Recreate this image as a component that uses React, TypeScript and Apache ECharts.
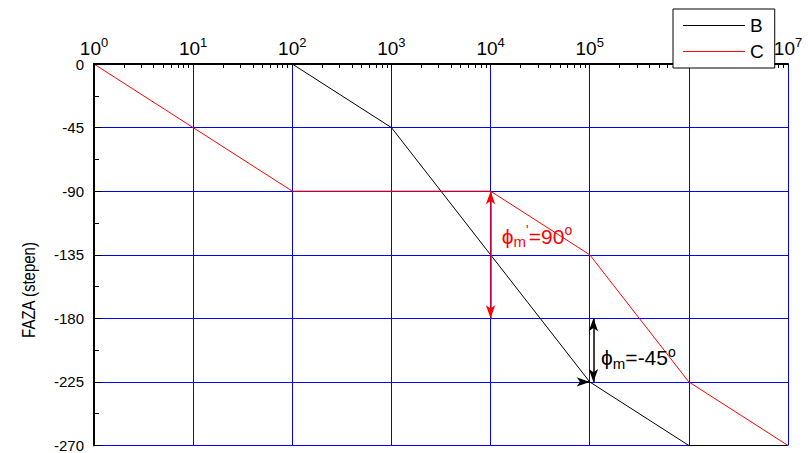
import React, { useEffect, useRef } from "react";
import * as echarts from "echarts";

// ---- data ----
const decadeExponents = [0, 1, 2, 3, 4, 5, 6, 7];
const minorMultipliers = [2, 3, 4, 5, 6, 7, 8, 9];
const yMin = -270;
const yMax = 0;
const yStep = 45;

const seriesBName = "B";
const seriesBX = [1e2, 1e3, 1e5, 1e6, 1e7];
const seriesBY = [0, -45, -225, -270, -270];

const seriesCName = "C";
const seriesCX = [1e0, 1e1, 1e2, 1e4, 1e5, 1e6, 1e7];
const seriesCY = [0, -45, -90, -90, -135, -225, -270];

// annotations
const redArrow = [[1e4, -90], [1e4, -180]];
const blackArrow = [[1.09e5, -180], [1.09e5, -225]];
const blackHArrow = [[8.3e4, -225], [1e5, -225]];
const redLabelAt = [2.94e4, -122];
const blackLabelAt = [3.1e5, -208];
const yAxisTitle = "FAZA (stepen)";

const FONT = '"Liberation Sans", Arial, sans-serif';
const LINE_ICON = "path://M0,9 L62,9 L62,10 L0,10 Z";

export default function App() {
  const ref = useRef<HTMLDivElement>(null);
  useEffect(() => {
    if (!ref.current) return;
    const chart = echarts.init(ref.current, undefined, { renderer: "svg" });

    const tickValues: number[] = [];
    decadeExponents.forEach((e) => {
      tickValues.push(e);
      if (e < 7) minorMultipliers.forEach((m) => tickValues.push(e + Math.log10(m)));
    });

    const grid = { left: 94, right: 20, top: 64, bottom: 7 };

    const annotRich = (color: string) => ({
      p: { fontSize: 21, fontFamily: FONT, color, lineHeight: 26 },
      sub: { fontSize: 15, fontFamily: FONT, color, lineHeight: 15, verticalAlign: "bottom" },
      sup: { fontSize: 14, fontFamily: FONT, color, lineHeight: 14, verticalAlign: "top" },
    });

    chart.setOption({
      animation: false,
      backgroundColor: "#fff",
      grid,
      legend: {
        orient: "vertical",
        left: 673,
        top: 9,
        z: 10,
        padding: [7, 11, 7, 10],
        itemGap: 7,
        itemWidth: 62,
        itemHeight: 19,
        icon: LINE_ICON,
        backgroundColor: "#fff",
        borderColor: "#000",
        borderWidth: 1,
        textStyle: { fontSize: 19, fontFamily: FONT, color: "#000" },
        data: [seriesBName, seriesCName],
      },
      xAxis: [
        {
          type: "log",
          logBase: 10,
          min: 1,
          max: 1e7,
          position: "top",
          axisLine: { show: false, onZero: false },
          axisTick: { show: false },
          splitLine: { show: true, lineStyle: { color: "#0000ff", width: 1 } },
          axisLabel: {
            margin: 4,
            formatter: (v: number) => `{b|10}{s|${Math.round(Math.log10(v))}}`,
            rich: {
              b: { fontSize: 19, fontFamily: FONT, color: "#000", lineHeight: 24 },
              s: { fontSize: 13, fontFamily: FONT, color: "#000", lineHeight: 13, verticalAlign: "top" },
            },
          },
        },
        {
          type: "value",
          min: 0,
          max: 7,
          position: "top",
          z: 5,
          axisLine: { show: true, onZero: false, lineStyle: { color: "#000", width: 2 } },
          axisTick: {
            show: true,
            inside: true,
            length: 4,
            customValues: tickValues,
            lineStyle: { color: "#000", width: 1 },
          },
          axisLabel: { show: false },
          splitLine: { show: false },
        },
      ],
      yAxis: [
        {
          type: "value",
          min: yMin,
          max: yMax,
          interval: yStep,
          axisLine: { show: false, onZero: false },
          axisTick: { show: false },
          axisLabel: { show: false },
          splitLine: { show: true, lineStyle: { color: "#0000ff", width: 1 } },
        },
        {
          type: "value",
          min: yMin,
          max: yMax,
          interval: yStep,
          position: "left",
          z: 5,
          axisLine: { show: true, onZero: false, lineStyle: { color: "#000", width: 2 } },
          axisTick: { show: true, inside: true, length: 8, lineStyle: { color: "#000", width: 1 } },
          minorTick: { show: true, splitNumber: 2, length: 5, lineStyle: { color: "#000", width: 1 } },
          axisLabel: { margin: 10, fontSize: 15, fontFamily: FONT, color: "#000" },
          splitLine: { show: false },
        },
      ],
      graphic: [
        {
          type: "text",
          x: 29,
          y: 290,
          rotation: Math.PI / 2,
          scaleY: 1.22,
          style: {
            text: yAxisTitle,
            font: `15px ${FONT}`,
            fill: "#000",
            align: "center",
            verticalAlign: "middle",
          },
        },
      ],
      series: [
        {
          name: seriesBName,
          type: "line",
          xAxisIndex: 0,
          yAxisIndex: 0,
          symbol: "none",
          color: "#000",
          lineStyle: { color: "#000", width: 1 },
          data: seriesBX.map((x, i) => [x, seriesBY[i]]),
          markLine: {
            silent: true,
            symbol: ["arrow", "arrow"],
            symbolSize: [7, 13],
            label: { show: false },
            lineStyle: { color: "#000", width: 1.5, type: "solid" },
            data: [
              [{ coord: blackArrow[0] }, { coord: blackArrow[1] }],
              [{ coord: blackHArrow[0], symbol: "none" }, { coord: blackHArrow[1] }],
            ],
          },
          markPoint: {
            silent: true,
            symbol: "circle",
            symbolSize: 0,
            data: [
              {
                coord: blackLabelAt,
                label: {
                  show: true,
                  position: "inside",
                  formatter: "{p|ϕ}{sub|m}{p|=-45}{sup|o}",
                  rich: annotRich("#000"),
                },
              },
            ],
          },
        },
        {
          name: seriesCName,
          type: "line",
          xAxisIndex: 0,
          yAxisIndex: 0,
          symbol: "none",
          color: "#ff0000",
          lineStyle: { color: "#ff0000", width: 1 },
          data: seriesCX.map((x, i) => [x, seriesCY[i]]),
          markLine: {
            silent: true,
            symbol: ["arrow", "arrow"],
            symbolSize: [7, 13],
            label: { show: false },
            lineStyle: { color: "#ff0000", width: 1.5, type: "solid" },
            data: [[{ coord: redArrow[0] }, { coord: redArrow[1] }]],
          },
          markPoint: {
            silent: true,
            symbol: "circle",
            symbolSize: 0,
            data: [
              {
                coord: redLabelAt,
                label: {
                  show: true,
                  position: "inside",
                  formatter: "{p|ϕ}{sub|m}{sup|'}{p|=90}{sup|o}",
                  rich: annotRich("#ff0000"),
                },
              },
            ],
          },
        },
      ],
    });
    return () => chart.dispose();
  }, []);

  return (
    <div
      ref={ref}
      style={{ position: "fixed", left: 0, top: 0, width: 808, height: 453, background: "#fff" }}
    />
  );
}
